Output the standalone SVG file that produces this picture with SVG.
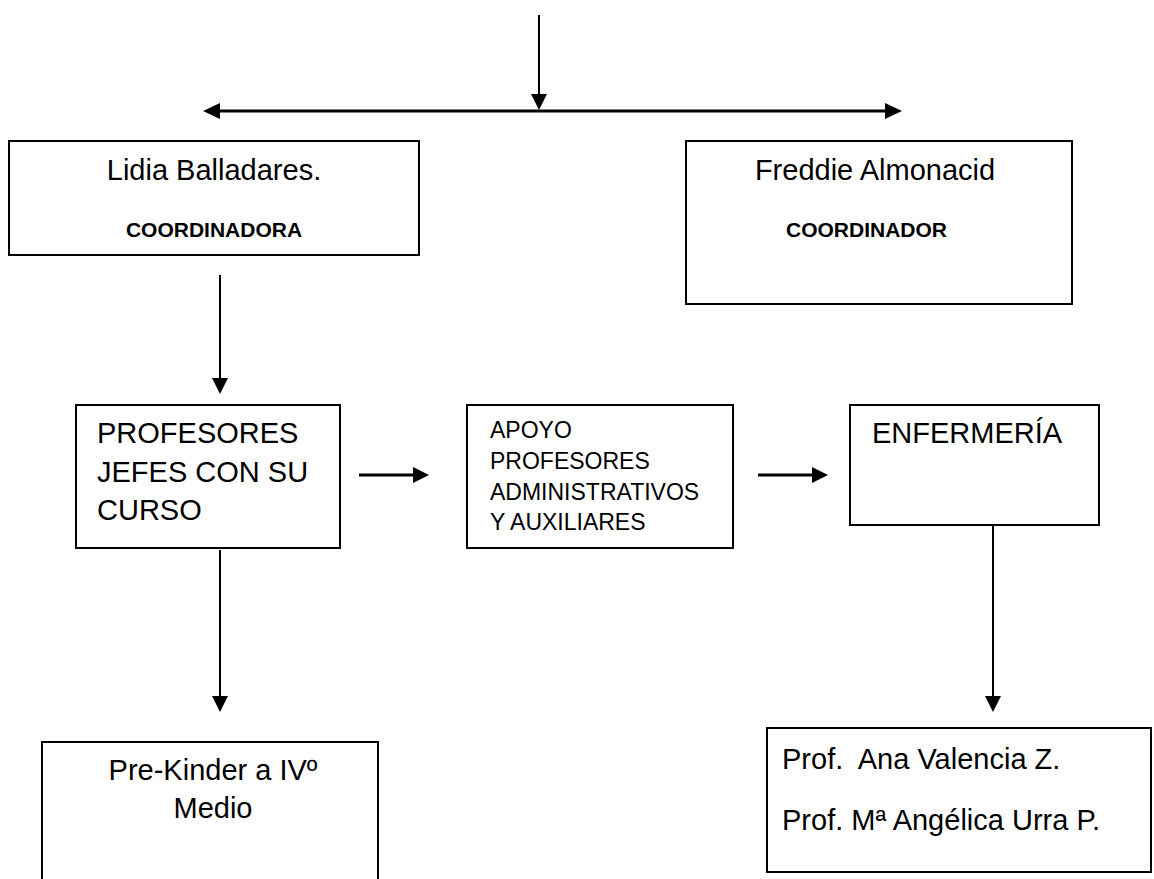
<svg xmlns="http://www.w3.org/2000/svg" width="1154" height="879" viewBox="0 0 1154 879">
<style>
.box{fill:#fff;stroke:#000;stroke-width:2}
.t{font-family:"Liberation Sans",Arial,sans-serif;font-size:29px;fill:#000}
.s{font-size:23px}
.b{font-family:"Liberation Sans",Arial,sans-serif;font-size:21px;font-weight:bold;fill:#000}
.ln{stroke:#000;stroke-width:2;fill:none}
.lt{stroke:#000;stroke-width:3;fill:none}
.hd{fill:#000}
</style>
<rect width="1154" height="879" fill="#fff"/>
<g id="connectors">
<line class="ln" x1="539" y1="15" x2="539" y2="96"/>
<polygon class="hd" points="531,94 547,94 539,110"/>
<line class="lt" x1="216" y1="111" x2="889" y2="111"/>
<polygon class="hd" points="203,111 220,103 220,119"/>
<polygon class="hd" points="902,111 885,103 885,119"/>
<line class="ln" x1="220" y1="275" x2="220" y2="380"/>
<polygon class="hd" points="212,378 228,378 220,394"/>
<line class="lt" x1="359" y1="475" x2="415" y2="475"/>
<polygon class="hd" points="413,467 429,475 413,483"/>
<line class="lt" x1="758" y1="475" x2="814" y2="475"/>
<polygon class="hd" points="812,467 828,475 812,483"/>
<line class="ln" x1="220" y1="550" x2="220" y2="698"/>
<polygon class="hd" points="212,696 228,696 220,712"/>
<line class="ln" x1="993" y1="525" x2="993" y2="698"/>
<polygon class="hd" points="985,696 1001,696 993,712"/>
</g>
<g id="lidia">
<rect class="box" x="9" y="141" width="410" height="114"/>
<text class="t" x="214" y="180" text-anchor="middle">Lidia Balladares.</text>
<text class="b" x="214" y="237" text-anchor="middle">COORDINADORA</text>
</g>
<g id="freddie">
<rect class="box" x="686" y="141" width="386" height="163"/>
<text class="t" x="875" y="180" text-anchor="middle">Freddie Almonacid</text>
<text class="b" x="786" y="237">COORDINADOR</text>
</g>
<g id="profesores">
<rect class="box" x="76" y="405" width="264" height="143"/>
<text class="t" x="97" y="443">PROFESORES</text>
<text class="t" x="97" y="482">JEFES CON SU</text>
<text class="t" x="97" y="520">CURSO</text>
</g>
<g id="apoyo">
<rect class="box" x="467" y="405" width="266" height="143"/>
<text class="t s" x="490" y="438">APOYO</text>
<text class="t s" x="490" y="469">PROFESORES</text>
<text class="t s" x="490" y="500">ADMINISTRATIVOS</text>
<text class="t s" x="490" y="530">Y AUXILIARES</text>
</g>
<g id="enfermeria">
<rect class="box" x="850" y="405" width="249" height="120"/>
<text class="t" x="872" y="443">ENFERMERÍA</text>
</g>
<g id="prekinder">
<rect class="box" x="42" y="742" width="336" height="150"/>
<text class="t" x="213" y="780" text-anchor="middle">Pre-Kinder a IVº</text>
<text class="t" x="213" y="818" text-anchor="middle">Medio</text>
</g>
<g id="profs">
<rect class="box" x="767" y="728" width="384" height="144"/>
<text class="t" x="782" y="769" xml:space="preserve">Prof.  Ana Valencia Z.</text>
<text class="t" x="782" y="830">Prof. Mª Angélica Urra P.</text>
</g>
</svg>
